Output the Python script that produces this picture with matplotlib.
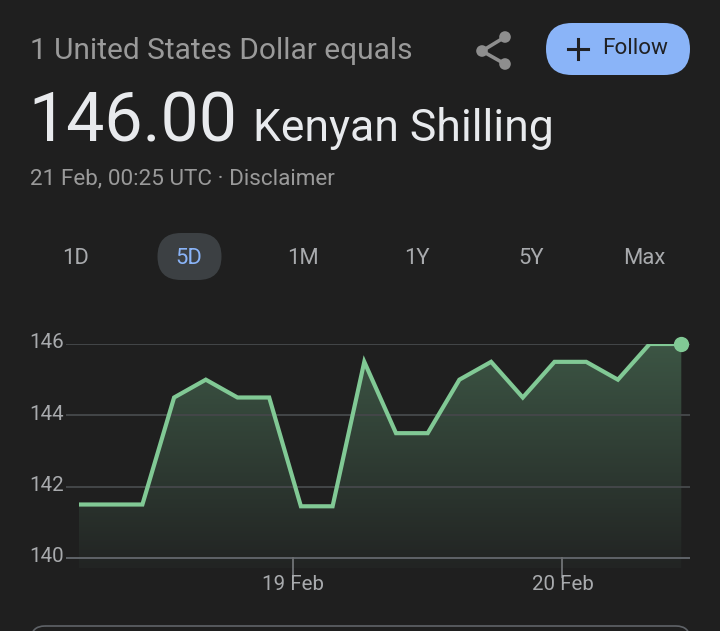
import matplotlib
matplotlib.use("Agg")
import matplotlib.pyplot as plt
import numpy as np
from matplotlib.colors import LinearSegmentedColormap
from matplotlib.patches import FancyBboxPatch, Circle, Polygon

plt.rcParams['font.family'] = ['Roboto', 'DejaVu Sans']

BG = '#1f1f1f'
GREEN = '#81c995'

# one rate every few hours
rates = [141.5, 141.5, 141.5, 144.5, 145.0, 144.5, 144.5, 141.45, 141.45, 145.5,
         143.5, 143.5, 145.0, 145.5, 144.5, 145.5, 145.5, 145.0, 146.0, 146.0]
steps = list(range(len(rates)))
y_ticks = [140, 142, 144, 146]
x_ticks = [6.75, 15.25]
x_labels = ['19 Feb', '20 Feb']
ranges = ['1D', '5D', '1M', '1Y', '5Y', 'Max']
range_x = [76, 189, 303, 417, 531, 644]

W, H = 720, 631
fig = plt.figure(figsize=(W / 100, H / 100), dpi=100, facecolor=BG)


def px_axes(x0, y0, x1, y1):
    return fig.add_axes([x0 / W, 1 - y1 / H, (x1 - x0) / W, (y1 - y0) / H])


# chart
ax = px_axes(66, 344, 690, 568)
ax.set_facecolor('none')
for s in ax.spines.values():
    s.set_visible(False)
ax.set_xticks([])
ax.set_yticks([])

cmap = LinearSegmentedColormap.from_list('fade', ['#3c5544', '#222423'])
grad = np.linspace(0, 1, 256).reshape(-1, 1)
img = ax.imshow(grad, cmap=cmap, aspect='auto', zorder=1,
                extent=[steps[0], steps[-1], 139.72, 146], origin='upper')
poly = Polygon(list(zip(steps, rates)) + [(steps[-1], 139.72), (steps[0], 139.72)],
               closed=True, transform=ax.transData, facecolor='none', edgecolor='none')
ax.add_patch(poly)
img.set_clip_path(poly)
ax.set_xlim(-13 / 31.7, 611 / 31.7)
ax.set_ylim(139.72, 146)

for v in y_ticks:
    ax.axhline(v, color='#5f6368' if v == 140 else '#444749', lw=1.4, zorder=2)
ax.plot(steps, rates, color=GREEN, lw=3, solid_joinstyle='miter', solid_capstyle='butt', zorder=3)
ax.plot(steps[-1], rates[-1], 'o', color=GREEN, ms=11, mew=0, zorder=4, clip_on=False)

# page furniture in pixel coordinates
ov = fig.add_axes([0, 0, 1, 1], zorder=5)
ov.set_xlim(0, W)
ov.set_ylim(H, 0)
ov.axis('off')
ov.patch.set_alpha(0)

for v in y_ticks:
    y = 344 + (146 - v) * 214 / 6
    ov.text(64, y - 1, str(v), color='#a8aaad', fontsize=14.8, ha='right', va='center')
for t, lab in zip(x_ticks, x_labels):
    x = 79 + 31.7 * t
    ov.plot([x, x], [558, 577], color='#6a6d70', lw=1.4)
    ov.text(x, 585, lab, color='#a8aaad', fontsize=14.8, ha='center', va='center')

ov.text(30, 51, '1 United States Dollar equals', color='#9a9a9a', fontsize=21.5, va='center')
ov.text(28, 123, '146.00', color='#e8eaed', fontsize=49, va='center')
ov.text(253, 129, 'Kenyan Shilling', color='#e8eaed', fontsize=32, va='center')
ov.text(30, 179, '21 Feb, 00:25 UTC · Disclaimer', color='#9a9a9a', fontsize=16.2, va='center')

# share icon
share = [(505, 37), (482, 51), (505, 64)]
ov.plot(*zip(*share), color='#8e8e8e', lw=2.6)
for c in share:
    ov.add_patch(Circle(c, 5.8, color='#8e8e8e', lw=0))

# follow button
ov.add_patch(FancyBboxPatch((546 + 26, 23 + 26), 144 - 52, 0, boxstyle='round,pad=26',
                            facecolor='#8ab4f8', edgecolor='none'))
ov.plot([568, 588], [49, 49], color='#202124', lw=2.2)
ov.plot([578, 578], [39, 59], color='#202124', lw=2.2)
ov.text(602, 49, 'Follow', color='#202124', fontsize=16.2, va='center')

# range selector
ov.add_patch(FancyBboxPatch((158 + 23, 233 + 23.5), 63 - 46, 0, boxstyle='round,pad=23.5',
                            facecolor='#3c4043', edgecolor='none'))
for lab, x in zip(ranges, range_x):
    ov.text(x, 258, lab, color='#8ab4f8' if lab == '5D' else '#a8aaad', fontsize=15.8,
            ha='center', va='center')

# card outline cut off by the bottom edge
ov.add_patch(FancyBboxPatch((45, 640), 631, 0, boxstyle='round,pad=14', facecolor='none',
                            edgecolor='#5f6368', lw=1.2))

fig.savefig('out.png', dpi=100, facecolor=BG)
